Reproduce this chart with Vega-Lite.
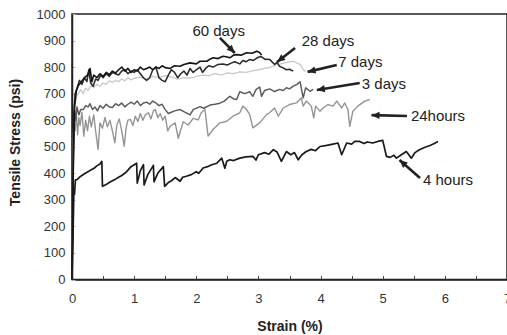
{
  "$schema": "https://vega.github.io/schema/vega-lite/v6.json",
  "width": 435,
  "height": 265.5,
  "autosize": {"type": "none"},
  "padding": {"left": 72, "top": 14, "right": 0, "bottom": 55.5},
  "background": "white",
  "config": {"view": {"stroke": "#222", "strokeWidth": 1.5}, "font": "Liberation Sans"},
  "datasets": {
    "curves": [
      {"series":"7 days","strain":0,"stress":0},{"series":"7 days","strain":0.02,"stress":450},{"series":"7 days","strain":0.04,"stress":640},{"series":"7 days","strain":0.07,"stress":690},{"series":"7 days","strain":0.1,"stress":700},{"series":"7 days","strain":0.14,"stress":715},{"series":"7 days","strain":0.18,"stress":700},{"series":"7 days","strain":0.22,"stress":720},{"series":"7 days","strain":0.26,"stress":712},{"series":"7 days","strain":0.3,"stress":730},{"series":"7 days","strain":0.35,"stress":722},{"series":"7 days","strain":0.4,"stress":735},{"series":"7 days","strain":0.45,"stress":728},{"series":"7 days","strain":0.5,"stress":740},{"series":"7 days","strain":0.55,"stress":735},{"series":"7 days","strain":0.6,"stress":748},{"series":"7 days","strain":0.65,"stress":742},{"series":"7 days","strain":0.7,"stress":750},{"series":"7 days","strain":0.75,"stress":745},{"series":"7 days","strain":0.8,"stress":755},{"series":"7 days","strain":0.85,"stress":748},{"series":"7 days","strain":0.9,"stress":760},{"series":"7 days","strain":0.95,"stress":752},{"series":"7 days","strain":1.0,"stress":758},{"series":"7 days","strain":1.1,"stress":762},{"series":"7 days","strain":1.2,"stress":755},{"series":"7 days","strain":1.3,"stress":765},{"series":"7 days","strain":1.4,"stress":760},{"series":"7 days","strain":1.5,"stress":768},{"series":"7 days","strain":1.6,"stress":762},{"series":"7 days","strain":1.7,"stress":755},{"series":"7 days","strain":1.8,"stress":760},{"series":"7 days","strain":1.9,"stress":758},{"series":"7 days","strain":2.0,"stress":765},{"series":"7 days","strain":2.1,"stress":770},{"series":"7 days","strain":2.2,"stress":768},{"series":"7 days","strain":2.3,"stress":775},{"series":"7 days","strain":2.4,"stress":770},{"series":"7 days","strain":2.5,"stress":778},{"series":"7 days","strain":2.6,"stress":775},{"series":"7 days","strain":2.7,"stress":782},{"series":"7 days","strain":2.8,"stress":780},{"series":"7 days","strain":2.9,"stress":786},{"series":"7 days","strain":3.0,"stress":790},{"series":"7 days","strain":3.1,"stress":795},{"series":"7 days","strain":3.2,"stress":800},{"series":"7 days","strain":3.3,"stress":808},{"series":"7 days","strain":3.4,"stress":815},{"series":"7 days","strain":3.5,"stress":820},{"series":"7 days","strain":3.56,"stress":822},{"series":"7 days","strain":3.62,"stress":815},{"series":"7 days","strain":3.67,"stress":810},{"series":"7 days","strain":3.72,"stress":790},{"series":"7 days","strain":3.76,"stress":784},
      {"series":"24hours","strain":0,"stress":0},{"series":"24hours","strain":0.01,"stress":250},{"series":"24hours","strain":0.02,"stress":520},{"series":"24hours","strain":0.035,"stress":640},{"series":"24hours","strain":0.05,"stress":560},{"series":"24hours","strain":0.07,"stress":620},{"series":"24hours","strain":0.09,"stress":545},{"series":"24hours","strain":0.11,"stress":610},{"series":"24hours","strain":0.13,"stress":580},{"series":"24hours","strain":0.16,"stress":630},{"series":"24hours","strain":0.19,"stress":540},{"series":"24hours","strain":0.22,"stress":600},{"series":"24hours","strain":0.25,"stress":560},{"series":"24hours","strain":0.28,"stress":615},{"series":"24hours","strain":0.31,"stress":575},{"series":"24hours","strain":0.35,"stress":620},{"series":"24hours","strain":0.38,"stress":560},{"series":"24hours","strain":0.42,"stress":490},{"series":"24hours","strain":0.45,"stress":590},{"series":"24hours","strain":0.49,"stress":570},{"series":"24hours","strain":0.53,"stress":610},{"series":"24hours","strain":0.57,"stress":575},{"series":"24hours","strain":0.61,"stress":600},{"series":"24hours","strain":0.65,"stress":560},{"series":"24hours","strain":0.69,"stress":515},{"series":"24hours","strain":0.72,"stress":580},{"series":"24hours","strain":0.76,"stress":605},{"series":"24hours","strain":0.8,"stress":560},{"series":"24hours","strain":0.84,"stress":502},{"series":"24hours","strain":0.87,"stress":570},{"series":"24hours","strain":0.9,"stress":600},{"series":"24hours","strain":0.94,"stress":603},{"series":"24hours","strain":0.98,"stress":580},{"series":"24hours","strain":1.02,"stress":615},{"series":"24hours","strain":1.06,"stress":595},{"series":"24hours","strain":1.1,"stress":625},{"series":"24hours","strain":1.14,"stress":600},{"series":"24hours","strain":1.18,"stress":620},{"series":"24hours","strain":1.23,"stress":628},{"series":"24hours","strain":1.27,"stress":605},{"series":"24hours","strain":1.31,"stress":635},{"series":"24hours","strain":1.34,"stress":640},{"series":"24hours","strain":1.38,"stress":610},{"series":"24hours","strain":1.42,"stress":625},{"series":"24hours","strain":1.46,"stress":600},{"series":"24hours","strain":1.5,"stress":615},{"series":"24hours","strain":1.54,"stress":560},{"series":"24hours","strain":1.58,"stress":577},{"series":"24hours","strain":1.66,"stress":590},{"series":"24hours","strain":1.71,"stress":532},{"series":"24hours","strain":1.79,"stress":594},{"series":"24hours","strain":1.87,"stress":582},{"series":"24hours","strain":1.95,"stress":607},{"series":"24hours","strain":2.03,"stress":601},{"series":"24hours","strain":2.08,"stress":628},{"series":"24hours","strain":2.14,"stress":640},{"series":"24hours","strain":2.19,"stress":540},{"series":"24hours","strain":2.27,"stress":565},{"series":"24hours","strain":2.38,"stress":590},{"series":"24hours","strain":2.49,"stress":596},{"series":"24hours","strain":2.59,"stress":615},{"series":"24hours","strain":2.7,"stress":628},{"series":"24hours","strain":2.75,"stress":653},{"series":"24hours","strain":2.81,"stress":640},{"series":"24hours","strain":2.86,"stress":621},{"series":"24hours","strain":2.91,"stress":571},{"series":"24hours","strain":3.02,"stress":590},{"series":"24hours","strain":3.13,"stress":621},{"series":"24hours","strain":3.18,"stress":628},{"series":"24hours","strain":3.26,"stress":646},{"series":"24hours","strain":3.32,"stress":615},{"series":"24hours","strain":3.4,"stress":646},{"series":"24hours","strain":3.5,"stress":659},{"series":"24hours","strain":3.61,"stress":665},{"series":"24hours","strain":3.69,"stress":684},{"series":"24hours","strain":3.72,"stress":653},{"series":"24hours","strain":3.77,"stress":672},{"series":"24hours","strain":3.85,"stress":653},{"series":"24hours","strain":3.89,"stress":609},{"series":"24hours","strain":3.92,"stress":653},{"series":"24hours","strain":3.99,"stress":634},{"series":"24hours","strain":4.04,"stress":646},{"series":"24hours","strain":4.12,"stress":659},{"series":"24hours","strain":4.2,"stress":653},{"series":"24hours","strain":4.26,"stress":672},{"series":"24hours","strain":4.34,"stress":646},{"series":"24hours","strain":4.39,"stress":665},{"series":"24hours","strain":4.44,"stress":640},{"series":"24hours","strain":4.47,"stress":577},{"series":"24hours","strain":4.52,"stress":634},{"series":"24hours","strain":4.6,"stress":653},{"series":"24hours","strain":4.71,"stress":672},{"series":"24hours","strain":4.79,"stress":678},
      {"series":"3 days","strain":0,"stress":0},{"series":"3 days","strain":0.01,"stress":300},{"series":"3 days","strain":0.025,"stress":560},{"series":"3 days","strain":0.04,"stress":640},{"series":"3 days","strain":0.06,"stress":600},{"series":"3 days","strain":0.08,"stress":650},{"series":"3 days","strain":0.11,"stress":620},{"series":"3 days","strain":0.14,"stress":640},{"series":"3 days","strain":0.18,"stress":640},{"series":"3 days","strain":0.22,"stress":655},{"series":"3 days","strain":0.26,"stress":650},{"series":"3 days","strain":0.29,"stress":662},{"series":"3 days","strain":0.33,"stress":640},{"series":"3 days","strain":0.37,"stress":650},{"series":"3 days","strain":0.41,"stress":635},{"series":"3 days","strain":0.45,"stress":655},{"series":"3 days","strain":0.5,"stress":645},{"series":"3 days","strain":0.55,"stress":660},{"series":"3 days","strain":0.6,"stress":650},{"series":"3 days","strain":0.65,"stress":648},{"series":"3 days","strain":0.7,"stress":662},{"series":"3 days","strain":0.75,"stress":655},{"series":"3 days","strain":0.8,"stress":665},{"series":"3 days","strain":0.85,"stress":650},{"series":"3 days","strain":0.9,"stress":660},{"series":"3 days","strain":0.95,"stress":668},{"series":"3 days","strain":1.0,"stress":660},{"series":"3 days","strain":1.05,"stress":672},{"series":"3 days","strain":1.1,"stress":655},{"series":"3 days","strain":1.15,"stress":665},{"series":"3 days","strain":1.2,"stress":668},{"series":"3 days","strain":1.25,"stress":660},{"series":"3 days","strain":1.3,"stress":672},{"series":"3 days","strain":1.35,"stress":665},{"series":"3 days","strain":1.4,"stress":655},{"series":"3 days","strain":1.45,"stress":660},{"series":"3 days","strain":1.5,"stress":640},{"series":"3 days","strain":1.55,"stress":625},{"series":"3 days","strain":1.58,"stress":628},{"series":"3 days","strain":1.65,"stress":635},{"series":"3 days","strain":1.74,"stress":640},{"series":"3 days","strain":1.8,"stress":632},{"series":"3 days","strain":1.9,"stress":620},{"series":"3 days","strain":1.95,"stress":640},{"series":"3 days","strain":2.06,"stress":651},{"series":"3 days","strain":2.12,"stress":645},{"series":"3 days","strain":2.22,"stress":657},{"series":"3 days","strain":2.3,"stress":660},{"series":"3 days","strain":2.38,"stress":664},{"series":"3 days","strain":2.45,"stress":672},{"series":"3 days","strain":2.54,"stress":690},{"series":"3 days","strain":2.6,"stress":680},{"series":"3 days","strain":2.65,"stress":678},{"series":"3 days","strain":2.7,"stress":707},{"series":"3 days","strain":2.78,"stress":700},{"series":"3 days","strain":2.86,"stress":707},{"series":"3 days","strain":2.91,"stress":690},{"series":"3 days","strain":2.96,"stress":715},{"series":"3 days","strain":3.02,"stress":725},{"series":"3 days","strain":3.05,"stress":690},{"series":"3 days","strain":3.1,"stress":712},{"series":"3 days","strain":3.18,"stress":718},{"series":"3 days","strain":3.26,"stress":708},{"series":"3 days","strain":3.34,"stress":716},{"series":"3 days","strain":3.4,"stress":712},{"series":"3 days","strain":3.45,"stress":722},{"series":"3 days","strain":3.5,"stress":718},{"series":"3 days","strain":3.56,"stress":728},{"series":"3 days","strain":3.62,"stress":735},{"series":"3 days","strain":3.67,"stress":745},{"series":"3 days","strain":3.72,"stress":684},{"series":"3 days","strain":3.76,"stress":722},{"series":"3 days","strain":3.83,"stress":709},{"series":"3 days","strain":3.88,"stress":716},
      {"series":"28 days","strain":0,"stress":0},{"series":"28 days","strain":0.015,"stress":350},{"series":"28 days","strain":0.03,"stress":620},{"series":"28 days","strain":0.05,"stress":700},{"series":"28 days","strain":0.08,"stress":720},{"series":"28 days","strain":0.12,"stress":750},{"series":"28 days","strain":0.16,"stress":735},{"series":"28 days","strain":0.2,"stress":760},{"series":"28 days","strain":0.24,"stress":745},{"series":"28 days","strain":0.27,"stress":790},{"series":"28 days","strain":0.3,"stress":740},{"series":"28 days","strain":0.34,"stress":728},{"series":"28 days","strain":0.38,"stress":755},{"series":"28 days","strain":0.42,"stress":750},{"series":"28 days","strain":0.46,"stress":770},{"series":"28 days","strain":0.5,"stress":760},{"series":"28 days","strain":0.55,"stress":775},{"series":"28 days","strain":0.6,"stress":765},{"series":"28 days","strain":0.65,"stress":780},{"series":"28 days","strain":0.7,"stress":775},{"series":"28 days","strain":0.75,"stress":770},{"series":"28 days","strain":0.8,"stress":785},{"series":"28 days","strain":0.85,"stress":790},{"series":"28 days","strain":0.9,"stress":775},{"series":"28 days","strain":0.95,"stress":785},{"series":"28 days","strain":1.0,"stress":780},{"series":"28 days","strain":1.05,"stress":790},{"series":"28 days","strain":1.1,"stress":775},{"series":"28 days","strain":1.15,"stress":760},{"series":"28 days","strain":1.2,"stress":750},{"series":"28 days","strain":1.25,"stress":760},{"series":"28 days","strain":1.3,"stress":790},{"series":"28 days","strain":1.35,"stress":800},{"series":"28 days","strain":1.4,"stress":760},{"series":"28 days","strain":1.45,"stress":750},{"series":"28 days","strain":1.5,"stress":745},{"series":"28 days","strain":1.55,"stress":770},{"series":"28 days","strain":1.6,"stress":790},{"series":"28 days","strain":1.65,"stress":780},{"series":"28 days","strain":1.7,"stress":760},{"series":"28 days","strain":1.75,"stress":775},{"series":"28 days","strain":1.8,"stress":785},{"series":"28 days","strain":1.85,"stress":770},{"series":"28 days","strain":1.9,"stress":795},{"series":"28 days","strain":1.95,"stress":780},{"series":"28 days","strain":2.0,"stress":790},{"series":"28 days","strain":2.06,"stress":800},{"series":"28 days","strain":2.1,"stress":780},{"series":"28 days","strain":2.15,"stress":795},{"series":"28 days","strain":2.2,"stress":805},{"series":"28 days","strain":2.27,"stress":800},{"series":"28 days","strain":2.35,"stress":810},{"series":"28 days","strain":2.43,"stress":812},{"series":"28 days","strain":2.5,"stress":808},{"series":"28 days","strain":2.56,"stress":815},{"series":"28 days","strain":2.62,"stress":820},{"series":"28 days","strain":2.7,"stress":812},{"series":"28 days","strain":2.75,"stress":825},{"series":"28 days","strain":2.8,"stress":820},{"series":"28 days","strain":2.86,"stress":829},{"series":"28 days","strain":2.92,"stress":825},{"series":"28 days","strain":2.98,"stress":835},{"series":"28 days","strain":3.04,"stress":840},{"series":"28 days","strain":3.1,"stress":830},{"series":"28 days","strain":3.18,"stress":829},{"series":"28 days","strain":3.26,"stress":810},{"series":"28 days","strain":3.3,"stress":818},{"series":"28 days","strain":3.34,"stress":803},{"series":"28 days","strain":3.39,"stress":798},{"series":"28 days","strain":3.45,"stress":790},{"series":"28 days","strain":3.5,"stress":792},{"series":"28 days","strain":3.56,"stress":785},
      {"series":"60 days","strain":0,"stress":0},{"series":"60 days","strain":0.02,"stress":400},{"series":"60 days","strain":0.04,"stress":650},{"series":"60 days","strain":0.07,"stress":710},{"series":"60 days","strain":0.1,"stress":730},{"series":"60 days","strain":0.15,"stress":745},{"series":"60 days","strain":0.2,"stress":760},{"series":"60 days","strain":0.25,"stress":770},{"series":"60 days","strain":0.29,"stress":795},{"series":"60 days","strain":0.32,"stress":745},{"series":"60 days","strain":0.35,"stress":770},{"series":"60 days","strain":0.4,"stress":760},{"series":"60 days","strain":0.45,"stress":775},{"series":"60 days","strain":0.5,"stress":765},{"series":"60 days","strain":0.55,"stress":780},{"series":"60 days","strain":0.6,"stress":772},{"series":"60 days","strain":0.65,"stress":785},{"series":"60 days","strain":0.7,"stress":778},{"series":"60 days","strain":0.75,"stress":790},{"series":"60 days","strain":0.8,"stress":800},{"series":"60 days","strain":0.85,"stress":785},{"series":"60 days","strain":0.9,"stress":795},{"series":"60 days","strain":0.95,"stress":780},{"series":"60 days","strain":1.0,"stress":790},{"series":"60 days","strain":1.05,"stress":785},{"series":"60 days","strain":1.1,"stress":800},{"series":"60 days","strain":1.15,"stress":790},{"series":"60 days","strain":1.2,"stress":795},{"series":"60 days","strain":1.25,"stress":800},{"series":"60 days","strain":1.3,"stress":790},{"series":"60 days","strain":1.35,"stress":800},{"series":"60 days","strain":1.4,"stress":795},{"series":"60 days","strain":1.45,"stress":805},{"series":"60 days","strain":1.5,"stress":798},{"series":"60 days","strain":1.58,"stress":795},{"series":"60 days","strain":1.65,"stress":805},{"series":"60 days","strain":1.74,"stress":803},{"series":"60 days","strain":1.8,"stress":810},{"series":"60 days","strain":1.9,"stress":816},{"series":"60 days","strain":2.0,"stress":812},{"series":"60 days","strain":2.06,"stress":822},{"series":"60 days","strain":2.17,"stress":822},{"series":"60 days","strain":2.22,"stress":830},{"series":"60 days","strain":2.27,"stress":835},{"series":"60 days","strain":2.35,"stress":832},{"series":"60 days","strain":2.43,"stress":841},{"series":"60 days","strain":2.5,"stress":838},{"series":"60 days","strain":2.54,"stress":835},{"series":"60 days","strain":2.6,"stress":845},{"series":"60 days","strain":2.65,"stress":847},{"series":"60 days","strain":2.72,"stress":845},{"series":"60 days","strain":2.81,"stress":854},{"series":"60 days","strain":2.9,"stress":852},{"series":"60 days","strain":2.97,"stress":860},{"series":"60 days","strain":3.02,"stress":855},{"series":"60 days","strain":3.05,"stress":845},
      {"series":"4 hours","strain":0,"stress":0},{"series":"4 hours","strain":0.015,"stress":150},{"series":"4 hours","strain":0.03,"stress":330},{"series":"4 hours","strain":0.04,"stress":320},{"series":"4 hours","strain":0.055,"stress":375},{"series":"4 hours","strain":0.08,"stress":376},{"series":"4 hours","strain":0.12,"stress":385},{"series":"4 hours","strain":0.16,"stress":392},{"series":"4 hours","strain":0.2,"stress":398},{"series":"4 hours","strain":0.25,"stress":405},{"series":"4 hours","strain":0.3,"stress":412},{"series":"4 hours","strain":0.35,"stress":418},{"series":"4 hours","strain":0.4,"stress":428},{"series":"4 hours","strain":0.45,"stress":435},{"series":"4 hours","strain":0.48,"stress":445},{"series":"4 hours","strain":0.49,"stress":351},{"series":"4 hours","strain":0.55,"stress":358},{"series":"4 hours","strain":0.6,"stress":365},{"series":"4 hours","strain":0.65,"stress":372},{"series":"4 hours","strain":0.7,"stress":378},{"series":"4 hours","strain":0.75,"stress":385},{"series":"4 hours","strain":0.8,"stress":392},{"series":"4 hours","strain":0.85,"stress":400},{"series":"4 hours","strain":0.9,"stress":412},{"series":"4 hours","strain":0.95,"stress":425},{"series":"4 hours","strain":1.04,"stress":438},{"series":"4 hours","strain":1.05,"stress":363},{"series":"4 hours","strain":1.1,"stress":410},{"series":"4 hours","strain":1.15,"stress":433},{"series":"4 hours","strain":1.16,"stress":356},{"series":"4 hours","strain":1.22,"stress":395},{"series":"4 hours","strain":1.31,"stress":430},{"series":"4 hours","strain":1.32,"stress":368},{"series":"4 hours","strain":1.38,"stress":400},{"series":"4 hours","strain":1.47,"stress":425},{"series":"4 hours","strain":1.49,"stress":351},{"series":"4 hours","strain":1.55,"stress":365},{"series":"4 hours","strain":1.6,"stress":372},{"series":"4 hours","strain":1.66,"stress":384},{"series":"4 hours","strain":1.74,"stress":370},{"series":"4 hours","strain":1.78,"stress":385},{"series":"4 hours","strain":1.84,"stress":389},{"series":"4 hours","strain":1.92,"stress":395},{"series":"4 hours","strain":2.0,"stress":406},{"series":"4 hours","strain":2.04,"stress":400},{"series":"4 hours","strain":2.11,"stress":420},{"series":"4 hours","strain":2.18,"stress":425},{"series":"4 hours","strain":2.25,"stress":432},{"series":"4 hours","strain":2.33,"stress":438},{"series":"4 hours","strain":2.41,"stress":457},{"series":"4 hours","strain":2.46,"stress":419},{"series":"4 hours","strain":2.49,"stress":445},{"series":"4 hours","strain":2.54,"stress":451},{"series":"4 hours","strain":2.6,"stress":448},{"series":"4 hours","strain":2.7,"stress":457},{"series":"4 hours","strain":2.8,"stress":462},{"series":"4 hours","strain":2.91,"stress":464},{"series":"4 hours","strain":2.96,"stress":450},{"series":"4 hours","strain":3.0,"stress":470},{"series":"4 hours","strain":3.1,"stress":478},{"series":"4 hours","strain":3.17,"stress":472},{"series":"4 hours","strain":3.24,"stress":489},{"series":"4 hours","strain":3.3,"stress":480},{"series":"4 hours","strain":3.37,"stress":445},{"series":"4 hours","strain":3.45,"stress":482},{"series":"4 hours","strain":3.52,"stress":470},{"series":"4 hours","strain":3.58,"stress":478},{"series":"4 hours","strain":3.64,"stress":451},{"series":"4 hours","strain":3.7,"stress":470},{"series":"4 hours","strain":3.77,"stress":482},{"series":"4 hours","strain":3.85,"stress":490},{"series":"4 hours","strain":3.92,"stress":485},{"series":"4 hours","strain":3.99,"stress":501},{"series":"4 hours","strain":4.1,"stress":505},{"series":"4 hours","strain":4.2,"stress":510},{"series":"4 hours","strain":4.28,"stress":514},{"series":"4 hours","strain":4.34,"stress":470},{"series":"4 hours","strain":4.42,"stress":514},{"series":"4 hours","strain":4.5,"stress":510},{"series":"4 hours","strain":4.55,"stress":520},{"series":"4 hours","strain":4.63,"stress":520},{"series":"4 hours","strain":4.7,"stress":512},{"series":"4 hours","strain":4.75,"stress":518},{"series":"4 hours","strain":4.84,"stress":514},{"series":"4 hours","strain":4.92,"stress":520},{"series":"4 hours","strain":5.0,"stress":524},{"series":"4 hours","strain":5.06,"stress":464},{"series":"4 hours","strain":5.12,"stress":460},{"series":"4 hours","strain":5.18,"stress":468},{"series":"4 hours","strain":5.22,"stress":457},{"series":"4 hours","strain":5.3,"stress":470},{"series":"4 hours","strain":5.38,"stress":482},{"series":"4 hours","strain":5.42,"stress":470},{"series":"4 hours","strain":5.46,"stress":457},{"series":"4 hours","strain":5.52,"stress":478},{"series":"4 hours","strain":5.59,"stress":489},{"series":"4 hours","strain":5.68,"stress":498},{"series":"4 hours","strain":5.76,"stress":505},{"series":"4 hours","strain":5.83,"stress":512},{"series":"4 hours","strain":5.89,"stress":520}
    ],
    "notes": [
      {"label":"60 days","x":2.36,"y":936,"ax":2.38,"ay":910,"tx":2.62,"ty":853},
      {"label":"28 days","x":4.12,"y":898,"ax":3.59,"ay":872,"tx":3.3,"ty":819},
      {"label":"7 days","x":4.64,"y":819,"ax":4.26,"ay":808,"tx":3.79,"ty":782},
      {"label":"3 days","x":5.02,"y":736,"ax":4.63,"ay":740,"tx":3.94,"ty":714},
      {"label":"24hours","x":5.89,"y":616,"ax":5.39,"ay":616,"tx":4.82,"ty":619},
      {"label":"4 hours","x":6.05,"y":375,"ax":5.6,"ay":382,"tx":5.27,"ty":450}
    ]
  },
  "layer": [
    {
      "data": {"name": "curves"},
      "mark": {"type": "line", "interpolate": "linear", "strokeJoin": "round"},
      "encoding": {
        "x": {"field": "strain", "type": "quantitative", "scale": {"domain": [0, 7], "nice": false, "zero": false},
          "axis": {"title": "Strain (%)", "values": [0,0.5,1,1.5,2,2.5,3,3.5,4,4.5,5,5.5,6,6.5,7], "labelExpr": "datum.value % 1 === 0 ? format(datum.value, 'd') : ''", "labelOverlap": false, "grid": false, "domainColor": "#222", "domainWidth": 1.5, "tickColor": "#444", "tickSize": -4, "labelFontSize": 13, "labelColor": "#333", "labelPadding": 17, "labelFont": "Liberation Sans", "titleFont": "Liberation Sans", "titleFontSize": 14, "titleFontWeight": "bold", "titleColor": "#222", "titleBaseline": "middle", "titleY": 46.5, "labelFlush": false}},
        "y": {"field": "stress", "type": "quantitative", "scale": {"domain": [0, 1000], "nice": false},
          "axis": {"title": "Tensile Stress (psi)", "values": [0,100,200,300,400,500,600,700,800,900,1000], "format": "d", "labelOverlap": false, "grid": false, "domainColor": "#222", "domainWidth": 1.5, "tickColor": "#bbb", "tickSize": -3, "labelFontSize": 13, "labelColor": "#333", "labelPadding": 10, "labelFont": "Liberation Sans", "titleFont": "Liberation Sans", "titleFontSize": 14, "titleFontWeight": "bold", "titleColor": "#222", "titleBaseline": "middle", "titleX": -57, "titleY": 128, "labelFlush": false}},
        "color": {"field": "series", "type": "nominal", "scale": {"domain": ["7 days","24hours","3 days","28 days","60 days","4 hours"], "range": ["#c8c8c8","#939393","#5a5a5a","#2a2a2a","#151515","#1a1a1a"]}, "legend": null},
        "strokeWidth": {"field": "series", "type": "nominal", "scale": {"domain": ["7 days","24hours","3 days","28 days","60 days","4 hours"], "range": [1.3,1.7,1.3,1.3,1.6,1.4]}, "legend": null}
      }
    },
    {
      "data": {"name": "notes"},
      "mark": {"type": "rule", "color": "#222", "strokeWidth": 2.6},
      "encoding": {
        "x": {"field": "ax", "type": "quantitative",
          "axis": {"title": "Strain (%)", "values": [0,0.5,1,1.5,2,2.5,3,3.5,4,4.5,5,5.5,6,6.5,7], "labelExpr": "datum.value % 1 === 0 ? format(datum.value, 'd') : ''", "labelOverlap": false, "grid": false, "domainColor": "#222", "domainWidth": 1.5, "tickColor": "#444", "tickSize": -4, "labelFontSize": 13, "labelColor": "#333", "labelPadding": 17, "labelFont": "Liberation Sans", "titleFont": "Liberation Sans", "titleFontSize": 14, "titleFontWeight": "bold", "titleColor": "#222", "titleBaseline": "middle", "titleY": 46.5, "labelFlush": false}},
        "y": {"field": "ay", "type": "quantitative",
          "axis": {"title": "Tensile Stress (psi)", "values": [0,100,200,300,400,500,600,700,800,900,1000], "format": "d", "labelOverlap": false, "grid": false, "domainColor": "#222", "domainWidth": 1.5, "tickColor": "#bbb", "tickSize": -3, "labelFontSize": 13, "labelColor": "#333", "labelPadding": 10, "labelFont": "Liberation Sans", "titleFont": "Liberation Sans", "titleFontSize": 14, "titleFontWeight": "bold", "titleColor": "#222", "titleBaseline": "middle", "titleX": -57, "titleY": 128, "labelFlush": false}},
        "x2": {"field": "tx"},
        "y2": {"field": "ty"}
      }
    },
    {
      "data": {"name": "notes"},
      "transform": [{"calculate": "atan2((datum.tx - datum.ax) * 62.14, (datum.ty - datum.ay) * 0.2655) * 180 / PI", "as": "ang"}],
      "mark": {"type": "point", "shape": "M0,0L-0.9,2L0.9,2Z", "filled": true, "color": "#222", "opacity": 1, "size": 64},
      "encoding": {
        "x": {"field": "tx", "type": "quantitative",
          "axis": {"title": "Strain (%)", "values": [0,0.5,1,1.5,2,2.5,3,3.5,4,4.5,5,5.5,6,6.5,7], "labelExpr": "datum.value % 1 === 0 ? format(datum.value, 'd') : ''", "labelOverlap": false, "grid": false, "domainColor": "#222", "domainWidth": 1.5, "tickColor": "#444", "tickSize": -4, "labelFontSize": 13, "labelColor": "#333", "labelPadding": 17, "labelFont": "Liberation Sans", "titleFont": "Liberation Sans", "titleFontSize": 14, "titleFontWeight": "bold", "titleColor": "#222", "titleBaseline": "middle", "titleY": 46.5, "labelFlush": false}},
        "y": {"field": "ty", "type": "quantitative",
          "axis": {"title": "Tensile Stress (psi)", "values": [0,100,200,300,400,500,600,700,800,900,1000], "format": "d", "labelOverlap": false, "grid": false, "domainColor": "#222", "domainWidth": 1.5, "tickColor": "#bbb", "tickSize": -3, "labelFontSize": 13, "labelColor": "#333", "labelPadding": 10, "labelFont": "Liberation Sans", "titleFont": "Liberation Sans", "titleFontSize": 14, "titleFontWeight": "bold", "titleColor": "#222", "titleBaseline": "middle", "titleX": -57, "titleY": 128, "labelFlush": false}},
        "angle": {"field": "ang", "type": "quantitative", "scale": null}
      }
    },
    {
      "data": {"name": "notes"},
      "mark": {"type": "text", "font": "Liberation Sans", "fontSize": 15, "color": "#222", "align": "center", "baseline": "middle"},
      "encoding": {
        "x": {"field": "x", "type": "quantitative",
          "axis": {"title": "Strain (%)", "values": [0,0.5,1,1.5,2,2.5,3,3.5,4,4.5,5,5.5,6,6.5,7], "labelExpr": "datum.value % 1 === 0 ? format(datum.value, 'd') : ''", "labelOverlap": false, "grid": false, "domainColor": "#222", "domainWidth": 1.5, "tickColor": "#444", "tickSize": -4, "labelFontSize": 13, "labelColor": "#333", "labelPadding": 17, "labelFont": "Liberation Sans", "titleFont": "Liberation Sans", "titleFontSize": 14, "titleFontWeight": "bold", "titleColor": "#222", "titleBaseline": "middle", "titleY": 46.5, "labelFlush": false}},
        "y": {"field": "y", "type": "quantitative",
          "axis": {"title": "Tensile Stress (psi)", "values": [0,100,200,300,400,500,600,700,800,900,1000], "format": "d", "labelOverlap": false, "grid": false, "domainColor": "#222", "domainWidth": 1.5, "tickColor": "#bbb", "tickSize": -3, "labelFontSize": 13, "labelColor": "#333", "labelPadding": 10, "labelFont": "Liberation Sans", "titleFont": "Liberation Sans", "titleFontSize": 14, "titleFontWeight": "bold", "titleColor": "#222", "titleBaseline": "middle", "titleX": -57, "titleY": 128, "labelFlush": false}},
        "text": {"field": "label"}
      }
    }
  ]
}
